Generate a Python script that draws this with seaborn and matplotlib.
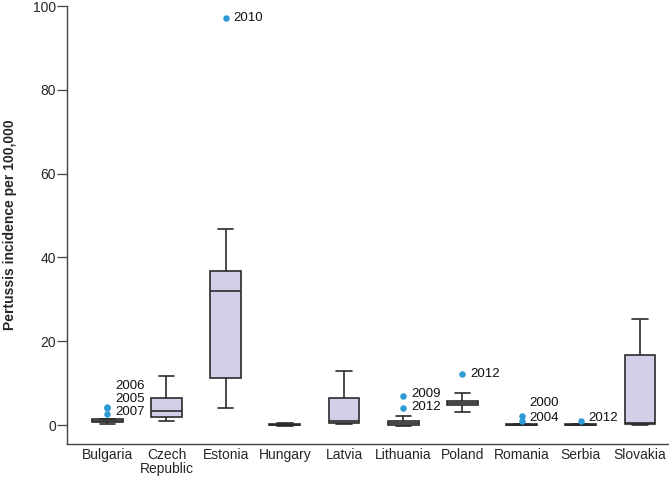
import pandas as pd
import numpy as np
import matplotlib
matplotlib.use("Agg")
import matplotlib.pyplot as plt
import seaborn as sns

sns.set_style("ticks")
plt.rcParams['font.family'] = ['Liberation Sans', 'DejaVu Sans']

# --- data ---
countries = ["Bulgaria", "Czech\nRepublic", "Estonia", "Hungary", "Latvia",
             "Lithuania", "Poland", "Romania", "Serbia", "Slovakia"]
whisk_lo = [0.2, 1.1, 4.1, -0.2, 0.3, -0.2, 3.1, 0.0, 0.0, 0.1]
q1 = [0.8, 2.0, 11.3, 0.0, 0.4, 0.0, 4.7, 0.0, 0.0, 0.2]
median = [1.1, 3.4, 32.0, 0.1, 1.0, 0.5, 5.3, 0.1, 0.1, 0.5]
q3 = [1.4, 6.4, 36.8, 0.3, 6.5, 1.1, 5.8, 0.2, 0.2, 16.7]
whisk_hi = [1.5, 11.7, 46.8, 0.5, 12.9, 2.1, 7.6, 0.3, 0.3, 25.3]

# outliers (country, value, year) and where their year labels sit
out_country = ["Bulgaria", "Bulgaria", "Bulgaria", "Estonia", "Lithuania",
               "Lithuania", "Poland", "Romania", "Romania", "Serbia"]
out_value = [4.4, 4.2, 2.6, 97.1, 6.9, 4.1, 12.2, 2.2, 1.0, 1.0]
out_year = ["2006", "2005", "2007", "2010", "2009", "2012", "2012", "2000", "2004", "2012"]
label_y = [9.3, 6.2, 3.1, 97.1, 7.4, 4.3, 12.3, 5.4, 1.8, 1.8]

# five-number summary per country -> long table (quartiles fall exactly on these)
rows = []
for c, a, b, m, d, e in zip(countries, whisk_lo, q1, median, q3, whisk_hi):
    for v in (a, b, m, d, e):
        rows.append({"country": c, "incidence": v})
df = pd.DataFrame(rows)

fig = plt.figure(figsize=(6.69, 4.8), dpi=100)
ax = fig.add_axes([67 / 669, 1 - 444 / 480, 1 - 67 / 669, (444 - 6) / 480])

sns.boxplot(
    data=df, x="country", y="incidence", order=countries,
    whis=(0, 100), showfliers=False, width=0.52,
    color="#d4cfe8", linecolor="#2b2b2b", linewidth=1.2,
    saturation=1, ax=ax,
)

# outlier points
pos = {c: i for i, c in enumerate(countries)}
ox = [pos[c] for c in out_country]
ax.scatter(ox, out_value, s=22, color="#2e9ad6", zorder=5, linewidths=0)
for x, yl, yr in zip(ox, label_y, out_year):
    ax.annotate(yr, xy=(x, yl), xytext=(5.5, 0), textcoords="offset points",
                ha="left", va="center", fontsize=9.5, color="#111111")

ax.set_xlim(-0.68, 9.49)
ax.set_ylim(-4.5, 100)
ax.set_yticks([0, 20, 40, 60, 80, 100])
ax.set_xlabel("")
ax.set_ylabel("Pertussis incidence per 100,000", fontsize=10, fontweight="bold", labelpad=11)
ax.tick_params(axis="y", length=7, width=0.9, color="#444444", labelsize=10, pad=1)
ax.tick_params(axis="x", length=0, labelsize=10, pad=3)
for lbl in ax.get_xticklabels():
    lbl.set_linespacing(1.0)
for s in ["top", "right"]:
    ax.spines[s].set_visible(False)
for s in ["left", "bottom"]:
    ax.spines[s].set_color("#444444")
    ax.spines[s].set_linewidth(1.0)

plt.savefig("out.png", dpi=100)
plt.close()
